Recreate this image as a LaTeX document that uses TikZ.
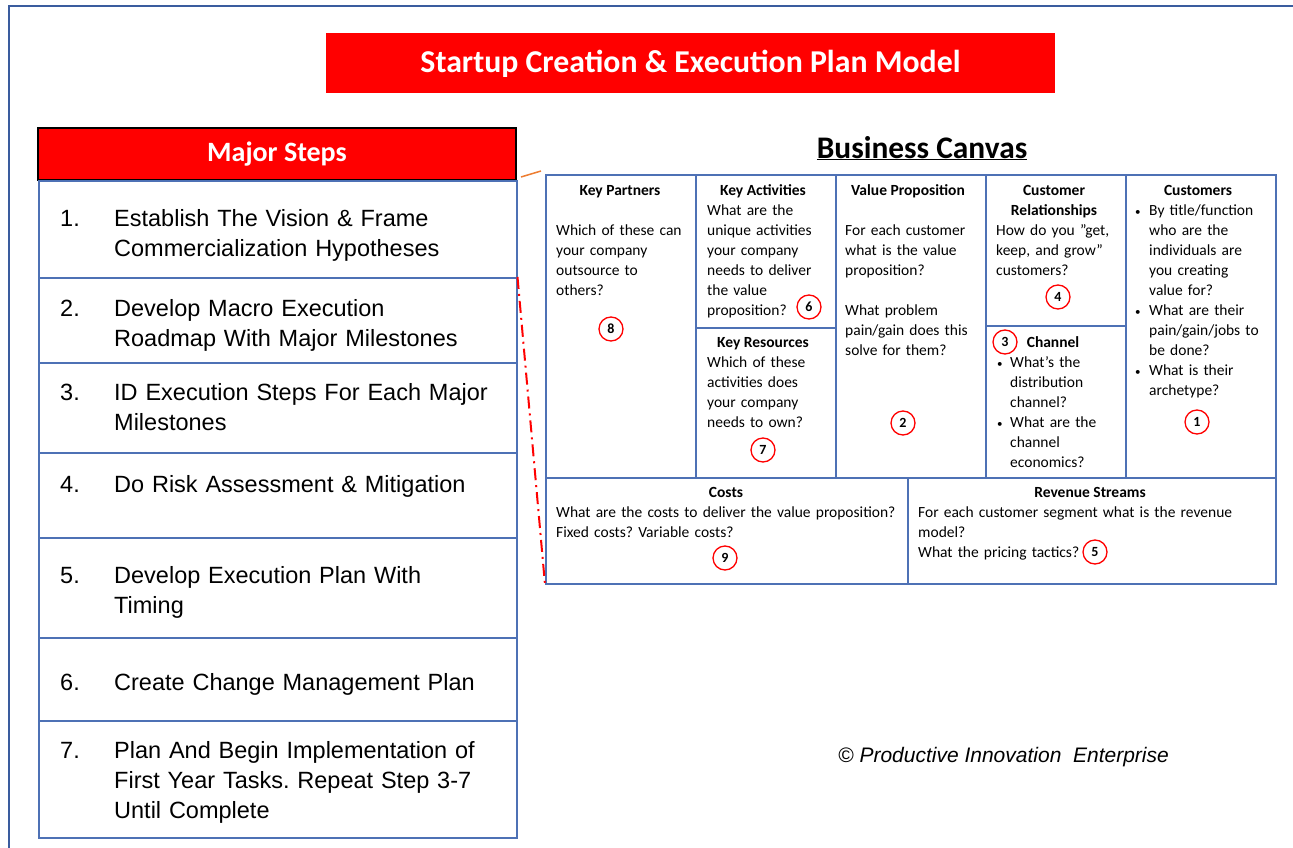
\documentclass[tikz,border=0pt]{standalone}
\usepackage{fontspec}
\setmainfont{Carlito}
\newfontfamily\stepfont{Liberation Sans}
\usetikzlibrary{positioning}
\frenchspacing
\definecolor{frameblue}{RGB}{58,92,158}
\definecolor{cellblue}{RGB}{78,113,181}
\definecolor{linkorange}{RGB}{237,125,49}
\tikzset{
    cell/.style={draw=cellblue, line width=1.5pt, anchor=north west, inner sep=0pt},
    steprow/.style={draw=cellblue, line width=1.5pt, anchor=north west, minimum width=478pt, inner sep=0pt},
    hd/.style={font=\fontsize{15.5}{20}\selectfont\bfseries, anchor=base, inner sep=0pt},
    txt/.style={font=\fontsize{15.5}{20}\selectfont, anchor=base west, inner sep=0pt, align=left, text width=440pt},
    dot/.style={font=\fontsize{11}{20}\selectfont, anchor=base west, inner sep=0pt},
    num/.style={draw=red, circle, line width=1.3pt, minimum size=24pt, inner sep=0pt, font=\fontsize{14}{14}\selectfont\bfseries},
    stepnum/.style={font=\stepfont\fontsize{23.5}{30}\selectfont, anchor=base west, inner sep=0pt},
    steptxt/.style={font=\stepfont\fontsize{23.5}{30}\selectfont, anchor=base west, inner sep=0pt, align=left, text width=395pt}}

\begin{document}
\begin{tikzpicture}[x=1pt, y=-1pt]
    \useasboundingbox (0,0) rectangle (1293,848);
    \draw[frameblue, line width=2pt] (9,870) -- (9,6) -- (1310,6);

    \node[fill=red, minimum width=729pt, minimum height=60pt, inner sep=0pt, text=white, font=\fontsize{31.8}{36}\selectfont\bfseries] (title) at (690.5,63.5) {Startup Creation \& Execution Plan Model};

    % major steps
    \node[fill=red, draw=black, line width=2pt, minimum width=478pt, minimum height=52pt, inner sep=0pt, text=white, font=\fontsize{28}{32}\selectfont\bfseries] (hdr) at (277,154) {Major Steps};
    \node[steprow, minimum height=97pt] (s1) at (38,180) {};
    \node[steprow, minimum height=85pt] (s2) at (38,277) {};
    \node[steprow, minimum height=90pt] (s3) at (38,362) {};
    \node[steprow, minimum height=85pt] (s4) at (38,452) {};
    \node[steprow, minimum height=100pt] (s5) at (38,537) {};
    \node[steprow, minimum height=83pt] (s6) at (38,637) {};
    \node[steprow, minimum height=117pt] (s7) at (38,720) {};

    \node[stepnum] (n1) at (60,226) {1.};
    \node[steptxt] (t1) at (114,226) {Establish The Vision \& Frame\\Commercialization Hypotheses};
    \node[stepnum] (n2) at (60,316) {2.};
    \node[steptxt] (t2) at (114,316) {Develop Macro Execution\\Roadmap With Major Milestones};
    \node[stepnum] (n3) at (60,400) {3.};
    \node[steptxt] (t3) at (114,400) {ID Execution Steps For Each Major\\Milestones};
    \node[stepnum] (n4) at (60,492) {4.};
    \node[steptxt] (t4) at (114,492) {Do Risk Assessment \& Mitigation};
    \node[stepnum] (n5) at (60,583) {5.};
    \node[steptxt] (t5) at (114,583) {Develop Execution Plan With\\Timing};
    \node[stepnum] (n6) at (60,690) {6.};
    \node[steptxt] (t6) at (114,690) {Create Change Management Plan};
    \node[stepnum] (n7) at (60,758) {7.};
    \node[steptxt] (t7) at (114,758) {Plan And Begin Implementation of\\First Year Tasks. Repeat Step 3-7\\Until Complete};

    % business canvas
    \node[font=\fontsize{31.4}{36}\selectfont\bfseries, anchor=base, inner sep=0pt] (bc) at (922,158) {\underline{Business Canvas}};

    \node[cell, minimum width=150pt, minimum height=303pt] (kp) at (545,174) {};
    \node[cell, minimum width=140pt, minimum height=153pt] (ka) at (695,174) {};
    \node[cell, minimum width=140pt, minimum height=150pt] (kr) at (695,327) {};
    \node[cell, minimum width=150pt, minimum height=303pt] (vp) at (835,174) {};
    \node[cell, minimum width=140pt, minimum height=151pt] (cr) at (985,174) {};
    \node[cell, minimum width=140pt, minimum height=152pt] (ch) at (985,325) {};
    \node[cell, minimum width=150pt, minimum height=303pt] (cu) at (1125,174) {};
    \node[cell, minimum width=362pt, minimum height=106pt] (co) at (545,477) {};
    \node[cell, minimum width=368pt, minimum height=106pt] (rs) at (907,477) {};

    \node[hd] (kph) at (620,195) {Key Partners};
    \node[txt] (kpt) at (556,235) {Which of these can\\your company\\outsource to\\others?};
    \node[num] (c8) at (611,329) {8};

    \node[hd] (kah) at (763,195) {Key Activities};
    \node[txt] (kat) at (707,215) {What are the\\unique activities\\your company\\needs to deliver\\the value\\proposition?};
    \node[num] (c6) at (809,307) {6};

    \node[hd] (krh) at (763,347) {Key Resources};
    \node[txt] (krt) at (707,367) {Which of these\\activities does\\your company\\needs to own?};
    \node[num] (c7) at (763,450) {7};

    \node[hd] (vph) at (908,195) {Value Proposition};
    \node[txt] (vpt) at (845,235) {For each customer\\what is the value\\proposition?\\[20pt]What problem\\pain/gain does this\\solve for them?};
    \node[num] (c2) at (903,423) {2};

    \node[hd, align=center, text width=140pt] (crh) at (1054,195) {Customer\\Relationships};
    \node[txt] (crt) at (996,235) {How do you ”get,\\keep, and grow”\\customers?};
    \node[num] (c4) at (1058,297) {4};

    \node[num] (c3) at (1005,342) {3};
    \node[hd] (chh) at (1053,347) {Channel};
    \node[dot] (chb1) at (997,367) {•};
    \node[txt] (cht1) at (1010,367) {What’s the\\distribution\\channel?};
    \node[dot] (chb2) at (997,427) {•};
    \node[txt] (cht2) at (1010,427) {What are the\\channel\\economics?};

    \node[hd] (cuh) at (1198,195) {Customers};
    \node[dot] (cub1) at (1135,215) {•};
    \node[txt] (cut1) at (1149,215) {By title/function\\who are the\\individuals are\\you creating\\value for?};
    \node[dot] (cub2) at (1135,315) {•};
    \node[txt] (cut2) at (1149,315) {What are their\\pain/gain/jobs to\\be done?};
    \node[dot] (cub3) at (1135,375) {•};
    \node[txt] (cut3) at (1149,375) {What is their\\archetype?};
    \node[num] (c1) at (1197,422) {1};

    \node[hd] (coh) at (726,497) {Costs};
    \node[txt] (cot) at (556,517) {What are the costs to deliver the value proposition?\\Fixed costs? Variable costs?};
    \node[num] (c9) at (725,558) {9};

    \node[hd] (rsh) at (1090,497) {Revenue Streams};
    \node[txt] (rst) at (918,517) {For each customer segment what is the revenue\\model?\\What the pricing tactics?};
    \node[num] (c5) at (1095,552) {5};

    \draw[linkorange, line width=1.5pt] ([shift={(4pt,4pt)}]hdr.south east) -- ([shift={(-4pt,3pt)}]kp.north west);
    \draw[red, line width=2pt, dash pattern=on 12pt off 5pt on 2pt off 5pt] (s2.north east) -- (co.south west);

    \node[font=\stepfont\itshape\fontsize{21}{25}\selectfont, anchor=base west, inner sep=0pt] (copy) at (838,762) {© Productive Innovation\ \ Enterprise};
\end{tikzpicture}
\end{document}
